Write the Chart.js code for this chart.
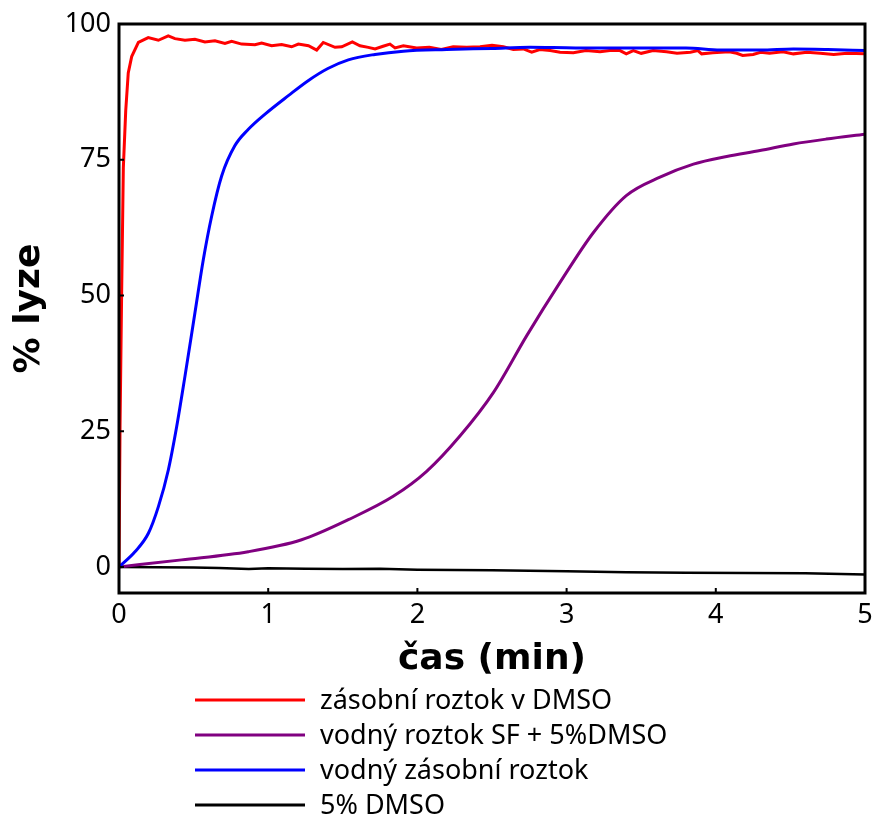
<!DOCTYPE html>
<html>
<head>
<meta charset="utf-8">
<script src="https://cdn.jsdelivr.net/npm/chart.js@4.4.1/dist/chart.umd.min.js"></script>
<style>
  html, body { margin: 0; padding: 0; background: #fff; }
  #lyzeChart { display: block; }
</style>
</head>
<body>
<canvas id="lyzeChart" width="873" height="817"></canvas>
<script>
// čas (min) / % lyze for each sample
const dmsoStockTime = [0, 0.007, 0.018, 0.029, 0.045, 0.062, 0.085, 0.13, 0.196, 0.264, 0.33, 0.375, 0.442, 0.509, 0.576, 0.643, 0.71, 0.755, 0.822, 0.911, 0.956, 1.023, 1.09, 1.157, 1.202, 1.27, 1.325, 1.369, 1.448, 1.493, 1.564, 1.615, 1.671, 1.716, 1.77, 1.816, 1.85, 1.906, 1.995, 2.08, 2.16, 2.24, 2.33, 2.42, 2.5, 2.576, 2.643, 2.71, 2.766, 2.82, 2.89, 2.956, 3.045, 3.13, 3.224, 3.29, 3.358, 3.4, 3.447, 3.5, 3.58, 3.67, 3.74, 3.83, 3.88, 3.905, 3.98, 4.09, 4.14, 4.18, 4.25, 4.3, 4.36, 4.45, 4.52, 4.61, 4.7, 4.79, 4.88, 5.0];
const dmsoStockLysis = [0, 26, 51, 73.5, 84, 91, 94, 96.6, 97.5, 97.0, 97.8, 97.3, 97.0, 97.2, 96.7, 96.9, 96.4, 96.8, 96.3, 96.2, 96.5, 96.0, 96.2, 95.8, 96.3, 96.0, 95.2, 96.6, 95.7, 95.8, 96.7, 96.0, 95.7, 95.4, 95.9, 96.3, 95.6, 96.0, 95.6, 95.7, 95.3, 95.8, 95.7, 95.8, 96.1, 95.8, 95.3, 95.4, 94.8, 95.3, 95.1, 94.8, 94.7, 95.1, 94.9, 95.1, 95.1, 94.5, 95.1, 94.6, 95.1, 94.9, 94.6, 94.8, 95.1, 94.5, 94.7, 94.9, 94.6, 94.2, 94.4, 94.8, 94.6, 94.9, 94.5, 94.8, 94.6, 94.4, 94.6, 94.5];

const sfWaterTime = [0, 0.42, 0.866, 1.224, 1.537, 1.838, 2.062, 2.285, 2.509, 2.733, 2.956, 3.18, 3.4, 3.626, 3.85, 4.073, 4.296, 4.52, 4.74, 5.0];
const sfWaterLysis = [0, 1.3, 2.8, 5.0, 8.7, 13.0, 17.6, 24.1, 32.1, 42.6, 52.4, 61.6, 68.4, 71.8, 74.2, 75.6, 76.7, 77.9, 78.8, 79.7];

const waterStockTime = [0, 0.107, 0.197, 0.264, 0.331, 0.387, 0.442, 0.509, 0.565, 0.621, 0.688, 0.777, 0.867, 0.979, 1.135, 1.27, 1.4, 1.537, 1.716, 1.906, 2.196, 2.5, 2.755, 3.06, 3.42, 3.8, 4.03, 4.3, 4.52, 4.75, 5.0];
const waterStockLysis = [0, 2.8, 6.2, 11.1, 17.9, 25.9, 35.1, 46.8, 56.6, 64.6, 72.0, 77.6, 80.6, 83.4, 86.8, 89.6, 91.8, 93.4, 94.4, 95.0, 95.3, 95.5, 95.7, 95.6, 95.6, 95.6, 95.2, 95.2, 95.4, 95.3, 95.1];

const dmsoBlankTime = [0, 0.25, 0.5, 0.67, 0.87, 1.0, 1.25, 1.5, 1.75, 2.0, 2.5, 3.0, 3.4, 3.8, 4.2, 4.6, 5.0];
const dmsoBlankLysis = [0, -0.05, -0.1, -0.2, -0.4, -0.25, -0.35, -0.4, -0.35, -0.5, -0.6, -0.8, -1.0, -1.05, -1.1, -1.15, -1.4];

const xTicks = [0, 1, 2, 3, 4, 5];
const yTicks = [0, 25, 50, 75, 100];

const seriesLabels = ["zásobní roztok v DMSO", "vodný roztok SF + 5%DMSO", "vodný zásobní roztok", "5% DMSO"];

const toPoints = (xs, ys) => xs.map((x, i) => ({ x: x, y: ys[i] }));

const tickFont = { family: "'Noto Sans', sans-serif", size: 27 };
const titleFont = { family: "'DejaVu Sans', sans-serif", size: 36, weight: "bold" };

// box round the plot with inward tick marks
const framePlugin = {
  id: "frame",
  afterDatasetsDraw(chart) {
    const { ctx, chartArea: a, scales } = chart;
    ctx.save();
    ctx.strokeStyle = "#000";
    ctx.lineWidth = 3;
    ctx.strokeRect(a.left, a.top, a.right - a.left, a.bottom - a.top);
    ctx.lineWidth = 2;
    ctx.beginPath();
    scales.x.ticks.forEach((t) => {
      const px = scales.x.getPixelForValue(t.value);
      ctx.moveTo(px, a.bottom);
      ctx.lineTo(px, a.bottom - 5);
    });
    scales.y.ticks.forEach((t) => {
      const py = scales.y.getPixelForValue(t.value);
      ctx.moveTo(a.left, py);
      ctx.lineTo(a.left + 5, py);
    });
    ctx.stroke();
    ctx.restore();
  },
};

// one legend row per series, under the x title
const stackedLegend = {
  id: "stackedLegend",
  afterDraw(chart) {
    const { ctx } = chart;
    ctx.save();
    ctx.font = "27px 'Noto Sans', sans-serif";
    ctx.textBaseline = "middle";
    ctx.fillStyle = "#000";
    chart.data.datasets.forEach((ds, i) => {
      const y = 700 + i * 35;
      ctx.strokeStyle = ds.borderColor;
      ctx.lineWidth = 3;
      ctx.beginPath();
      ctx.moveTo(195, y);
      ctx.lineTo(305, y);
      ctx.stroke();
      ctx.fillText(ds.label, 320, y + 1);
    });
    ctx.restore();
  },
};

new Chart(document.getElementById("lyzeChart"), {
  type: "line",
  data: {
    datasets: [
      {
        label: seriesLabels[0],
        data: toPoints(dmsoStockTime, dmsoStockLysis),
        borderColor: "#ff0000",
        borderWidth: 3,
        tension: 0,
        order: 1,
      },
      {
        label: seriesLabels[1],
        data: toPoints(sfWaterTime, sfWaterLysis),
        borderColor: "#800080",
        borderWidth: 3,
        cubicInterpolationMode: "monotone",
        order: 2,
      },
      {
        label: seriesLabels[2],
        data: toPoints(waterStockTime, waterStockLysis),
        borderColor: "#0000ff",
        borderWidth: 3,
        cubicInterpolationMode: "monotone",
        order: 0,
      },
      {
        label: seriesLabels[3],
        data: toPoints(dmsoBlankTime, dmsoBlankLysis),
        borderColor: "#000000",
        borderWidth: 2.5,
        tension: 0,
        order: 3,
      },
    ],
  },
  options: {
    responsive: false,
    animation: false,
    layout: { padding: { top: 24, right: 8, left: 0, bottom: 0 } },
    elements: { point: { radius: 0 } },
    plugins: {
      legend: { display: false },
      tooltip: { enabled: false },
    },
    scales: {
      x: {
        type: "linear",
        min: 0,
        max: 5,
        grid: { display: false, drawTicks: false },
        border: { display: false },
        afterBuildTicks: (scale) => {
          scale.ticks = xTicks.map((v) => ({ value: v }));
        },
        afterFit: (scale) => {
          scale.height = 224;
          scale.paddingLeft = 0;
          scale.paddingRight = 0;
        },
        ticks: { color: "#000", font: tickFont, padding: 6, maxRotation: 0 },
        title: {
          display: true,
          text: "čas (min)",
          color: "#000",
          font: titleFont,
          padding: { top: 0, bottom: 136 },
        },
      },
      y: {
        type: "linear",
        min: -4.8,
        max: 100,
        grid: { display: false, drawTicks: false },
        border: { display: false },
        afterBuildTicks: (scale) => {
          scale.ticks = yTicks.map((v) => ({ value: v }));
        },
        afterFit: (scale) => {
          scale.width = 119;
          scale.paddingTop = 0;
          scale.paddingBottom = 0;
        },
        ticks: { color: "#000", font: tickFont, padding: 8 },
        title: {
          display: true,
          text: "% lyze",
          color: "#000",
          font: titleFont,
          padding: { top: 8, bottom: 0 },
        },
      },
    },
  },
  plugins: [framePlugin, stackedLegend],
});
</script>
</body>
</html>
